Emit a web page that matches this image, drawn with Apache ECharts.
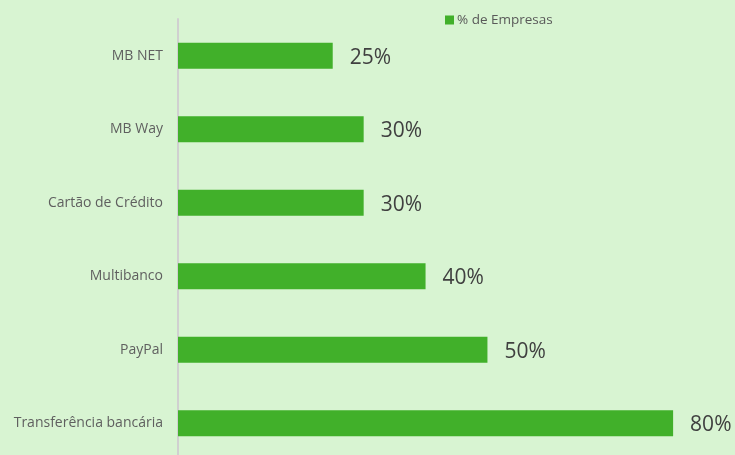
<!DOCTYPE html>
<html><head><meta charset="utf-8">
<script src="https://cdn.jsdelivr.net/npm/echarts@6/dist/echarts.min.js"></script>
<style>html,body{margin:0;padding:0;background:#d8f4d2;overflow:hidden;}#c{width:735px;height:470px;}</style>
</head><body><div id="c"></div>
<script>
const categories = ['Transferência bancária','PayPal','Multibanco','Cartão de Crédito','MB Way','MB NET'];
const values = [80, 50, 40, 30, 30, 25];
const seriesName = '% de Empresas';
const chart = echarts.init(document.getElementById('c'));
chart.setOption({
  backgroundColor: '#d8f4d2',
  animation: false,
  textStyle: { fontFamily: 'Open Sans' },
  legend: {
    data: [seriesName], left: 445, top: 13, padding: 0, itemWidth: 9, itemHeight: 9, itemGap: 4,
    icon: 'rect',
    textStyle: { fontFamily: 'Open Sans', fontSize: 13.5, color: '#595959', padding: [0, 0, 0, -2] }
  },
  grid: { left: 178, top: 19, width: 558, height: 441, containLabel: false },
  xAxis: { type: 'value', min: 0, max: 90, show: false },
  yAxis: {
    type: 'category', data: categories,
    axisLine: { show: true, lineStyle: { color: '#d0d0d0', width: 2 } },
    axisTick: { show: false },
    axisLabel: { fontFamily: 'Open Sans', fontSize: 14, color: '#5f5f5f', margin: 15 }
  },
  series: [{
    name: seriesName, type: 'bar', data: values, barWidth: 26,
    itemStyle: { color: '#41b02a' },
    label: { show: true, position: 'right', distance: 17, offset: [0, 2], formatter: '{c}%', fontFamily: 'Open Sans', fontSize: 21, color: '#404040' }
  }]
});
</script></body></html>
